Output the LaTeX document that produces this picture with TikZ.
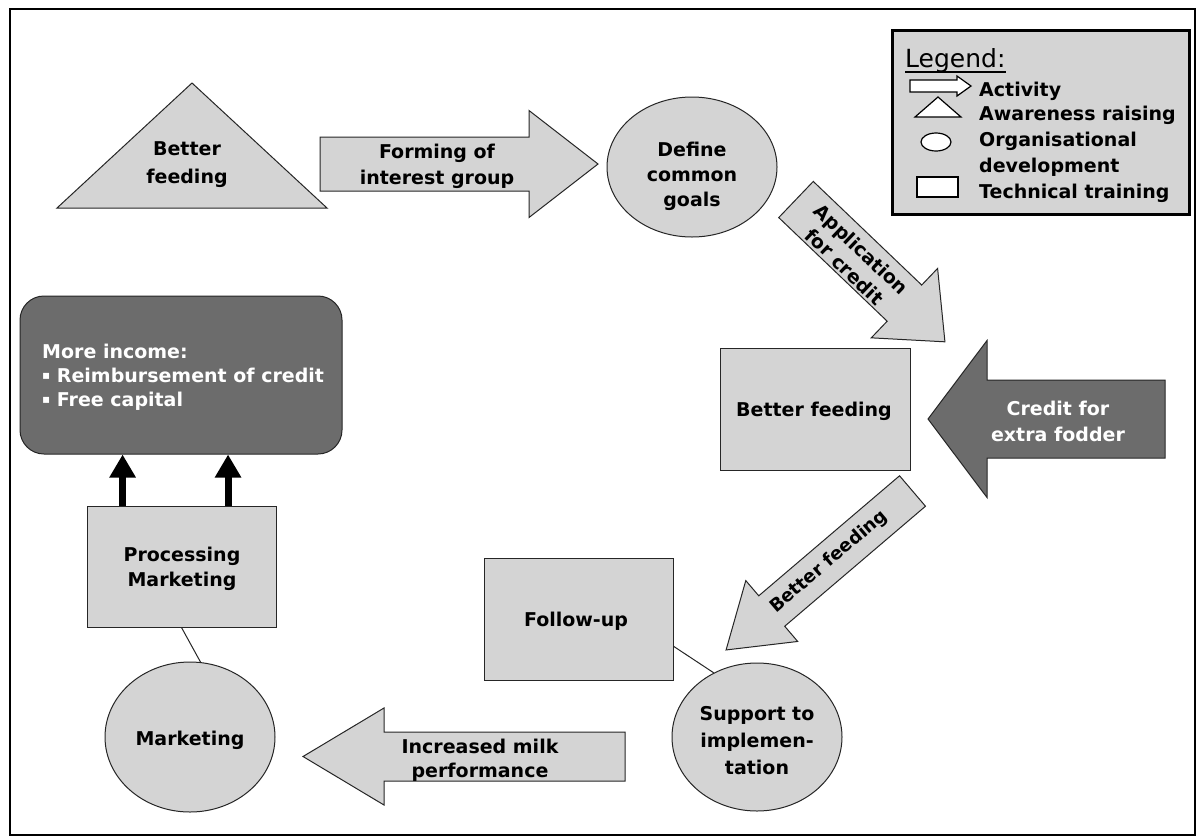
\documentclass[tikz,border=0pt]{standalone}
\usepackage{fontspec}
\setmainfont{DejaVu Sans}
\usetikzlibrary{arrows.meta,calc,shapes.geometric}
\definecolor{lightfill}{RGB}{212,212,212}
\definecolor{darkfill}{RGB}{108,108,108}
\newcommand\blockarrow[7]{% #1 style, #2 tail point, #3 angle, #4 length, #5 body half, #6 head half, #7 head length
  \begin{scope}[shift={#2}, rotate=#3]
    \draw[#1] (0,-#5) -- ({#4-#7},-#5) -- ({#4-#7},-#6) -- (#4,0) -- ({#4-#7},#6) -- ({#4-#7},#5) -- (0,#5) -- cycle;
  \end{scope}}
\begin{document}
\begin{tikzpicture}[x=1pt,y=-1pt,
  lbl/.style={font=\bfseries\fontsize{19}{26}\selectfont, align=center, inner sep=0pt},
  shapeline/.style={draw=black!85, line width=1pt, fill=lightfill},
  darkshape/.style={draw=black!85, line width=1pt, fill=darkfill},
  iconline/.style={draw=black, line width=1.2pt, fill=white},
  boxnode/.style={shapeline, rectangle, inner sep=0pt},
  ellnode/.style={shapeline, ellipse, inner sep=0pt},
  legtext/.style={font=\bfseries\fontsize{19}{24}\selectfont, inner sep=0pt, anchor=base west},
  upthick/.style={line width=7pt, -{Triangle[width=25pt,length=23pt]}}
]
\useasboundingbox (0,0) rectangle (1196,836);
\fill[white] (0,0) rectangle (1196,836);
\draw[line width=2pt] (10,9) rectangle (1195,835);

% ---------- legend ----------
\node[draw=black, line width=2.5pt, fill=lightfill, minimum width=297pt, minimum height=184pt, anchor=north west, inner sep=0pt] (legend) at (891,29) {};
\node[font=\fontsize{25}{30}\selectfont, inner sep=0pt, anchor=base west] (legT) at (905,67) {Legend:};
\draw[line width=1.5pt] ([yshift=-5pt]legT.base west) -- ([yshift=-5pt]legT.base east);
\blockarrow{iconline}{(910,86)}{0}{61}{6}{10}{14}
\draw[iconline] (915,117) -- (961,117) -- (938,97) -- cycle;
\draw[iconline] (936,142) ellipse [x radius=15, y radius=9];
\draw[iconline] (917,177) rectangle (958,197);
\node[legtext] (l1) at (979,96) {Activity};
\node[legtext] (l2) at (979,120) {Awareness raising};
\node[legtext] (l3) at (979,146) {Organisational};
\node[legtext] (l4) at (979,172) {development};
\node[legtext] (l5) at (979,198) {Technical training};

% ---------- top row ----------
\draw[shapeline] (192,83) coordinate (triTop) -- (327,208) -- (57,208) -- cycle;
\node[lbl, font=\bfseries\fontsize{19}{28}\selectfont] (triT) at (187,165) {Better\\feeding};

\blockarrow{shapeline}{(320,164)}{0}{278}{27}{53.5}{69}
\node[lbl] (formT) at (437,166) {Forming of\\interest group};

\node[ellnode, minimum width=170pt, minimum height=140pt] (def) at (692,167) {};
\node[lbl, font=\bfseries\fontsize{19}{25}\selectfont] (defT) at (692,176) {Define\\common\\goals};

\blockarrow{shapeline}{(796,199.5)}{-43.7}{206}{25}{48}{56}
\node[lbl, rotate=-43.7, font=\bfseries\fontsize{19}{24}\selectfont] (appT) at (853,258) {Application\\for credit};

% ---------- right middle ----------
\node[boxnode, minimum width=190pt, minimum height=122pt] (bf) at (815,409) {};
\node[lbl] (bfT) at (814,411) {Better feeding};

\blockarrow{darkshape}{(1165,419)}{180}{237}{39}{78.5}{59}
\node[lbl, text=white] (crT) at (1058,421) {Credit for\\extra fodder};

\blockarrow{shapeline}{(912.5,491)}{220.45}{245}{20}{40}{60}
\node[lbl, rotate=40.45, font=\bfseries\fontsize{18}{22}\selectfont] (bf2T) at (829,562) {Better feeding};

% ---------- bottom ----------
\node[boxnode, minimum width=189pt, minimum height=122pt] (fu) at (578.5,619) {};
\node[lbl] (fuT) at (576,621) {Follow-up};

\node[ellnode, minimum width=170pt, minimum height=148pt] (sup) at (757,737) {};
\node[lbl, font=\bfseries\fontsize{19}{27}\selectfont] (supT) at (757,741) {Support to\\implemen-\\tation};
\draw[black!85, line width=1pt] (fu.-16.5) -- (sup.124);

\blockarrow{shapeline}{(625,756.5)}{180}{322}{24.5}{48.5}{81}
\node[lbl, font=\bfseries\fontsize{19}{24}\selectfont] (milkT) at (480,760) {Increased milk\\performance};

\node[ellnode, minimum width=170pt, minimum height=150pt] (mk) at (190,737) {};
\node[lbl] (mkT) at (190,740) {Marketing};

\node[boxnode, minimum width=189pt, minimum height=121pt] (pm) at (181.5,566.5) {};
\node[lbl, font=\bfseries\fontsize{19}{25}\selectfont] (pmT) at (182,569) {Processing\\Marketing};
\draw[black!85, line width=1pt] (pm.south) -- (mk.82);

% ---------- income ----------
\node[darkshape, rounded corners=24pt, minimum width=322pt, minimum height=158pt, inner sep=0pt] (inc) at (181,375) {};
\node[lbl, align=left, anchor=west, text=white, font=\bfseries\fontsize{19}{24}\selectfont] (incT) at (42,377)
  {More income:\\{\fontsize{12}{12}\selectfont\raisebox{3pt}{▪}} Reimbursement of credit\\{\fontsize{12}{12}\selectfont\raisebox{3pt}{▪}} Free capital};

\coordinate (a1) at ($(pm.north west)!0.19!(pm.north east)$);
\coordinate (a2) at ($(pm.north west)!0.745!(pm.north east)$);
\draw[upthick] (a1) -- (a1 |- inc.south);
\draw[upthick] (a2) -- (a2 |- inc.south);
\end{tikzpicture}
\end{document}
